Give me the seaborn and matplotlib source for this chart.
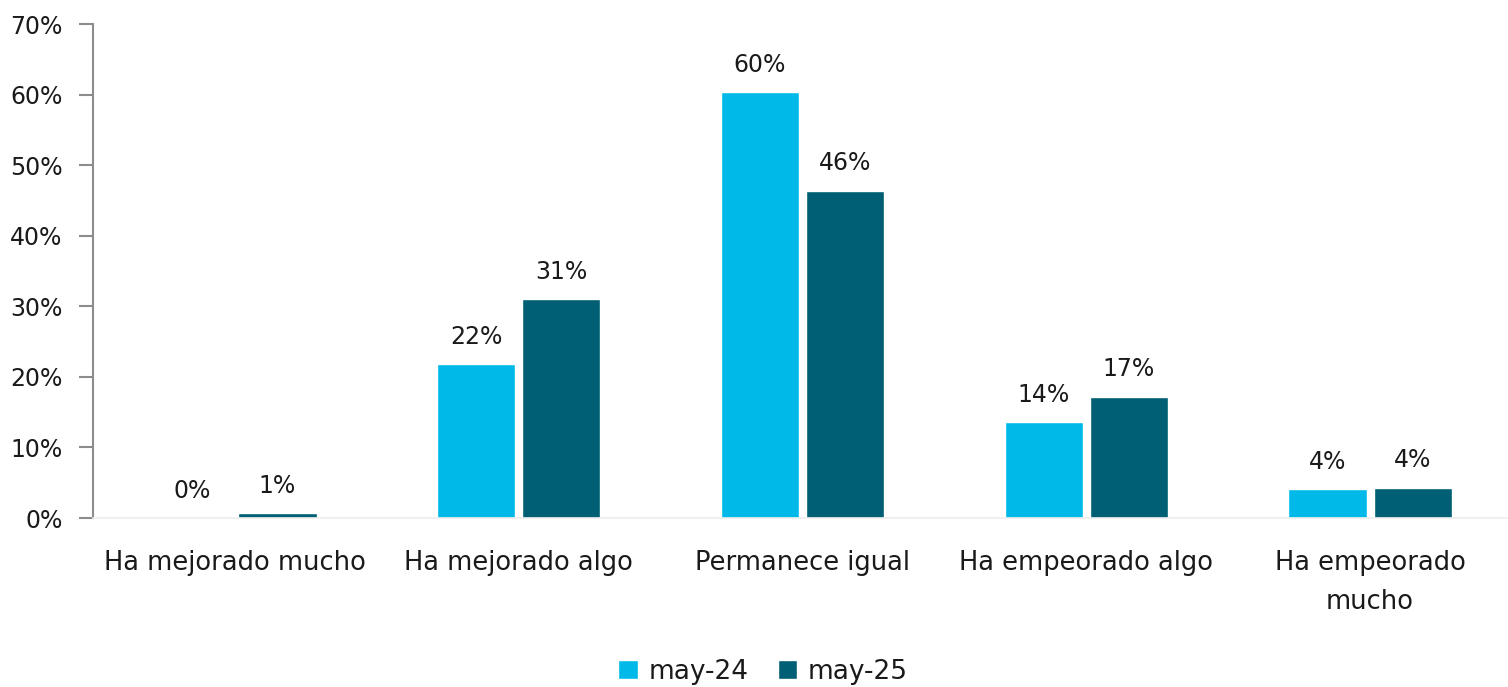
import pandas as pd
import matplotlib
matplotlib.use("Agg")
import matplotlib.pyplot as plt
import seaborn as sns

# ============================================================
# DATA
# ============================================================

categories = ["Ha mejorado mucho", "Ha mejorado algo", "Permanece igual",
              "Ha empeorado algo", "Ha empeorado\nmucho"]
periods = ["may-24", "may-25"]
vals_may24 = [0.0, 21.8, 60.3, 13.6, 4.1]
vals_may25 = [0.7, 31.0, 46.4, 17.2, 4.3]
ytick_vals = [0, 10, 20, 30, 40, 50, 60, 70]

COLORS = ["#00B9E8", "#005E75"]
FONT = ["DejaVu Sans"]
FS = 17

df = pd.DataFrame({
    "categoria": categories * 2,
    "periodo": [periods[0]] * len(categories) + [periods[1]] * len(categories),
    "valor": vals_may24 + vals_may25,
})

# ============================================================
# PLOT
# ============================================================

sns.set_theme(style="white")
plt.rcParams["font.family"] = FONT
plt.rcParams["text.color"] = "#1a1a1a"

fig = plt.figure(figsize=(15.08, 6.87), dpi=100)
ax = fig.add_axes([93 / 1508, 169 / 687, 1419 / 1508, 494 / 687])

sns.barplot(data=df, x="categoria", y="valor", hue="periodo",
            order=categories, hue_order=periods, palette=COLORS,
            width=0.6, gap=0.08, saturation=1, ax=ax, legend=True)

for cont in ax.containers:
    ax.bar_label(cont, labels=[f"{v:.0f}%" for v in cont.datavalues],
                 padding=11, fontsize=FS, color="#1a1a1a")

ax.set_ylim(0, 70)
ax.set_xlim(-0.5, 4.5)
ax.set_yticks(ytick_vals)
ax.set_yticklabels([f"{v}%" for v in ytick_vals], fontsize=FS)
ax.tick_params(axis="y", length=10, width=1.5, color="#8c8c8c",
               direction="out", pad=12, left=True, labelcolor="#1a1a1a")
ax.tick_params(axis="x", length=0, pad=23, labelsize=18.5, labelcolor="#1a1a1a")
for t in ax.get_xticklabels():
    t.set_linespacing(1.65)
    t.set_verticalalignment("top")
ax.set_xlabel("")
ax.set_ylabel("")

for s in ["top", "right"]:
    ax.spines[s].set_visible(False)
ax.spines["left"].set_color("#8c8c8c")
ax.spines["left"].set_linewidth(1.5)
ax.spines["bottom"].set_color("#eeeeee")
ax.spines["bottom"].set_linewidth(1.2)
ax.grid(False)

ax.legend_.remove()
handles, labels = ax.get_legend_handles_labels()
fig.legend(handles, labels, loc="center", bbox_to_anchor=(763 / 1508, 1 - 672 / 687),
           ncol=2, frameon=False, fontsize=19, handlelength=0.75, handleheight=0.75,
           handletextpad=0.4, columnspacing=1.1)

fig.savefig("out.png", dpi=100)
